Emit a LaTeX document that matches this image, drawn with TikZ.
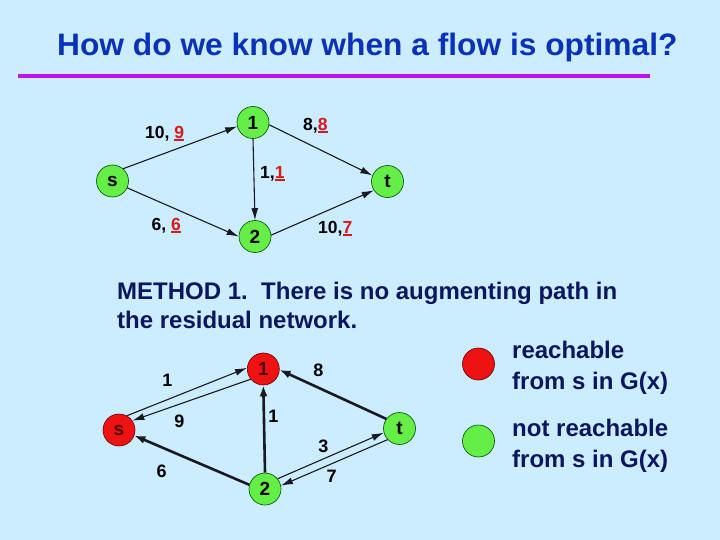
\documentclass[tikz,border=0pt]{standalone}
\usepackage{fontspec}
\setmainfont{Liberation Sans}
\usetikzlibrary{arrows.meta}
\definecolor{bg}{RGB}{204,236,255}
\definecolor{titleblue}{RGB}{10,50,185}
\definecolor{navy}{RGB}{12,22,95}
\definecolor{magline}{RGB}{190,20,235}
\definecolor{gfill}{RGB}{100,238,70}
\definecolor{rfill}{RGB}{238,18,18}
\definecolor{redtxt}{RGB}{215,25,25}
\definecolor{edge}{RGB}{25,25,35}
\newcommand\rn[1]{\setbox0\hbox{#1}{\color{redtxt}\rlap{\rule[-2.6pt]{\wd0}{2pt}}\box0}}
\tikzset{
  vtx/.style={circle, draw=black!70!green, line width=0.6pt, minimum size=32pt, inner sep=0pt, font=\bfseries\fontsize{19}{19}\selectfont},
  gv/.style={vtx, fill=gfill},
  rv/.style={vtx, fill=rfill, draw=black!60!red, text=black!70!red},
  thinedge/.style={draw=edge, line width=1.1pt, -{Latex[length=12pt,width=7pt]}},
  thickedge/.style={draw=edge, line width=2.6pt, -{Latex[length=11pt,width=8pt]}},
  lbl/.style={inner sep=0pt, font=\bfseries\fontsize{17.5}{17.5}\selectfont},
  blbl/.style={inner sep=0pt, font=\bfseries\fontsize{18}{18}\selectfont},
  txt/.style={anchor=base west, inner sep=0pt, text=navy, font=\bfseries\fontsize{24}{24}\selectfont},
  legtxt/.style={anchor=base west, inner sep=0pt, text=navy, font=\bfseries\fontsize{24}{24}\selectfont},
}
\begin{document}
\begin{tikzpicture}[x=1pt,y=-1pt]
\fill[bg] (0,0) rectangle (720,540);
\useasboundingbox (0,0) rectangle (720,540);
% title
\node[anchor=base west, inner sep=0pt, text=titleblue, font=\bfseries\fontsize{31}{31}\selectfont] (title) at (57,55.7) {\scalebox{1.023}[1]{How do we know when a flow is optimal?}};
\draw[magline, line width=4pt] (18,76) -- (650,76);
% top graph
\node[gv] (s) at (112.5,181) {s};
\node[gv] (n1) at (253,122.5) {1};
\node[gv] (t) at (387.5,181.5) {t};
\node[gv] (n2) at (255,236.5) {2};
\draw[thinedge] (s.49) -- (n1.194);
\draw[thinedge] (n1.352) -- (t.158);
\draw[thinedge] (n1.270) -- (n2.90);
\draw[thinedge] (s.335) -- (n2.180);
\draw[thinedge] (n2.5) -- (t.213);
\node[lbl, anchor=west] (l1) at (145,133.3) {10, \rn{9}};
\node[lbl, anchor=west] (l2) at (303,126) {8,\rn{8}};
\node[lbl, anchor=west] (l3) at (260,174) {1,\rn{1}};
\node[lbl, anchor=west] (l4) at (151.5,226) {6, \rn{6}};
\node[lbl, anchor=west] (l5) at (318,229) {10,\rn{7}};
% method text
\node[txt] (m1) at (117,299) {METHOD 1.\ \ There is no augmenting path in};
\node[txt] (m2) at (117,328) {the residual network.};
% bottom graph
\node[rv] (bs) at (119,430) {s};
\node[rv] (b1) at (263.3,369) {1};
\node[gv] (bt) at (399.5,428.5) {t};
\node[gv] (b2) at (265,489) {2};
\draw[thinedge] (bs.61) -- (b1.176);
\draw[thinedge] (b1.219) -- (bs.35);
\draw[thickedge] (b2.90) -- (b1.270);
\draw[thickedge] (bt.144) -- (b1.357);
\draw[thickedge] (b2.165) -- (bs.340);
\draw[thinedge] (b2.39) -- (bt.195);
\draw[thinedge] (bt.223) -- (b2.12);
\node[blbl] (k1) at (167.3,380) {1};
\node[blbl] (k2) at (179.3,421.7) {9};
\node[blbl] (k3) at (318.3,370) {8};
\node[blbl] (k4) at (273.3,416) {1};
\node[blbl] (k5) at (323.3,446.7) {3};
\node[blbl] (k6) at (331.7,476.7) {7};
\node[blbl] (k7) at (161.7,471.7) {6};
% legend
\node[circle, fill=rfill, draw=black!60!red, line width=0.6pt, minimum size=32pt, inner sep=0pt] (lr) at (478.5,364) {};
\node[circle, fill=gfill, draw=black!70!green, line width=0.6pt, minimum size=32pt, inner sep=0pt] (lg) at (478.5,441) {};
\node[legtxt] (r1) at (512,358) {reachable};
\node[legtxt] (r2) at (512,389) {from s in G(x)};
\node[legtxt] (r3) at (512,436) {not reachable};
\node[legtxt] (r4) at (512,467) {from s in G(x)};
\end{tikzpicture}
\end{document}
